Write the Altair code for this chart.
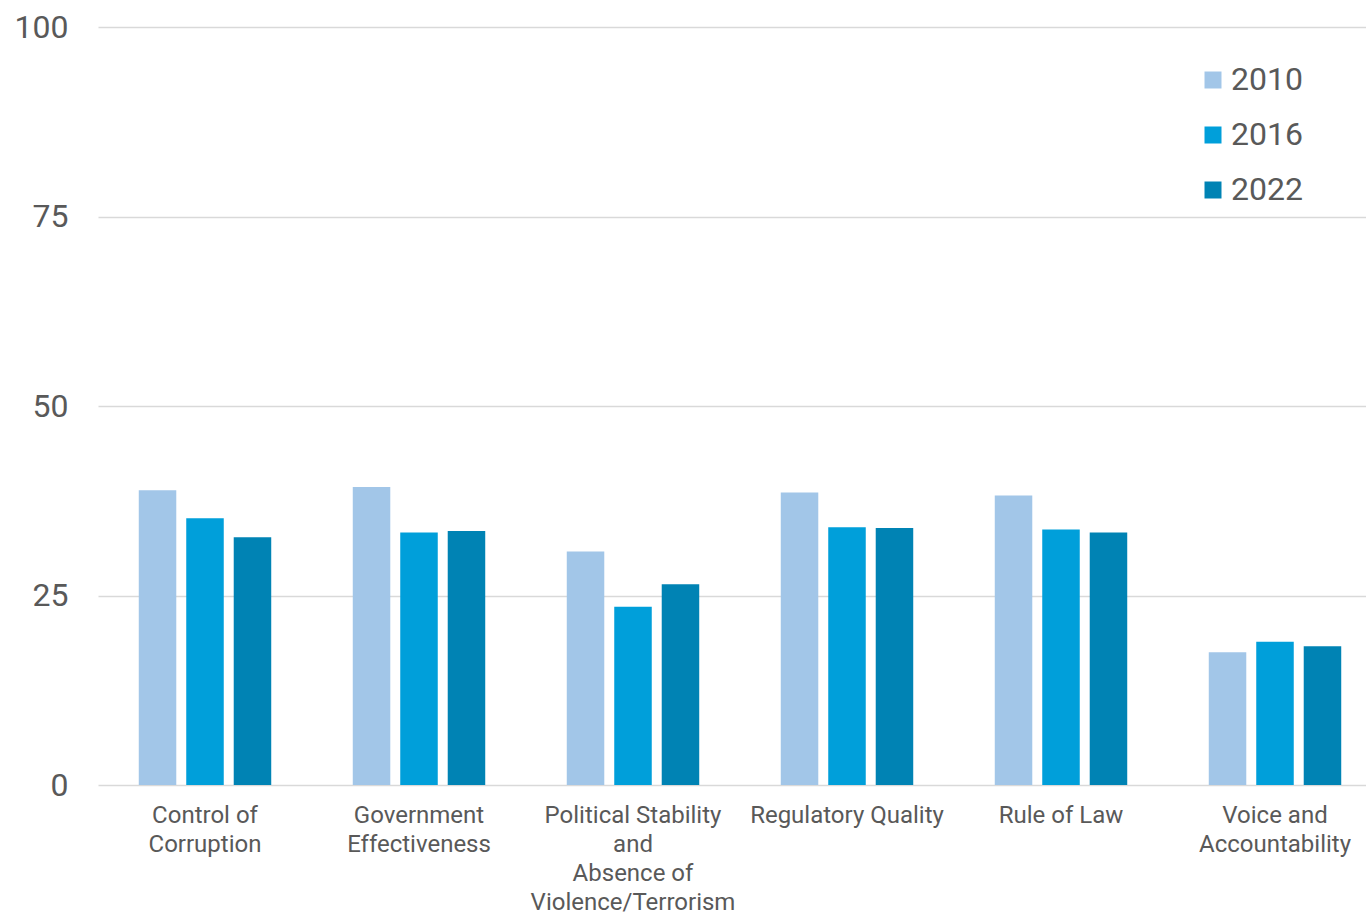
import altair as alt
import pandas as pd

# Worldwide Governance Indicators, percentile rank (0-100)
indicators = [
    "Control of Corruption",
    "Government Effectiveness",
    "Political Stability and Absence of Violence/Terrorism",
    "Regulatory Quality",
    "Rule of Law",
    "Voice and Accountability",
]
label_lines = [
    ["Control of", "Corruption"],
    ["Government", "Effectiveness"],
    ["Political Stability", "and", "Absence of", "Violence/Terrorism"],
    ["Regulatory Quality"],
    ["Rule of Law"],
    ["Voice and", "Accountability"],
]
years = ["2010", "2016", "2022"]
v2010 = [38.9, 39.3, 30.8, 38.6, 38.2, 17.5]
v2016 = [35.2, 33.3, 23.5, 34.0, 33.7, 18.9]
v2022 = [32.7, 33.5, 26.5, 33.9, 33.3, 18.3]
colors = ["#A2C6E8", "#009FDA", "#0083B4"]
y_ticks = [0, 25, 50, 75, 100]

rows = []
for year, vals in zip(years, [v2010, v2016, v2022]):
    for ind, v in zip(indicators, vals):
        rows.append({"indicator": ind, "year": year, "value": v})
df = pd.DataFrame(rows)

# multi-line category labels
expr = "''"
for ind, lines in reversed(list(zip(indicators, label_lines))):
    arr = "[" + ",".join("'" + l + "'" for l in lines) + "]"
    expr = f"datum.value == '{ind}' ? {arr} : ({expr})"

TEXT = "#595959"
FONT = "Roboto"

chart = (
    alt.Chart(df)
    .mark_bar()
    .encode(
        x=alt.X(
            "indicator:N",
            sort=indicators,
            scale=alt.Scale(range=[0, 1284], paddingInner=0.381, paddingOuter=0.1905),
            axis=alt.Axis(
                title=None,
                labelAngle=0,
                ticks=False,
                domain=False,
                grid=False,
                labelFontSize=24,
                labelColor=TEXT,
                labelFont=FONT,
                labelLineHeight=29,
                labelPadding=18,
                labelLimit=400,
                labelExpr=expr,
            ),
        ),
        xOffset=alt.XOffset(
            "year:N", sort=years, scale=alt.Scale(paddingInner=0.21, paddingOuter=0)
        ),
        y=alt.Y(
            "value:Q",
            scale=alt.Scale(domain=[0, 100], nice=False),
            axis=alt.Axis(
                title=None,
                values=y_ticks,
                ticks=False,
                domain=False,
                grid=True,
                gridColor="#D9D9D9",
                gridWidth=1.5,
                labelFontSize=32,
                labelColor=TEXT,
                labelFont=FONT,
                labelPadding=30,
            ),
        ),
        color=alt.Color(
            "year:N",
            sort=years,
            scale=alt.Scale(domain=years, range=colors),
            legend=alt.Legend(
                title=None,
                orient="none",
                legendX=1099,
                legendY=37,
                symbolType="square",
                symbolSize=289,
                symbolStrokeWidth=0,
                labelFontSize=32,
                labelColor=TEXT,
                labelFont=FONT,
                labelOffset=2,
                rowPadding=23,
                padding=0,
            ),
        ),
    )
    .properties(
        width=1268,
        height=758,
        background="white",
        autosize=alt.AutoSizeParams(type="none"),
        padding={"left": 98, "top": 27, "right": 0, "bottom": 127},
    )
    .configure_view(strokeWidth=0, stroke="transparent")
)

chart.save("out.html", embed_options={"renderer": "svg", "actions": False})
